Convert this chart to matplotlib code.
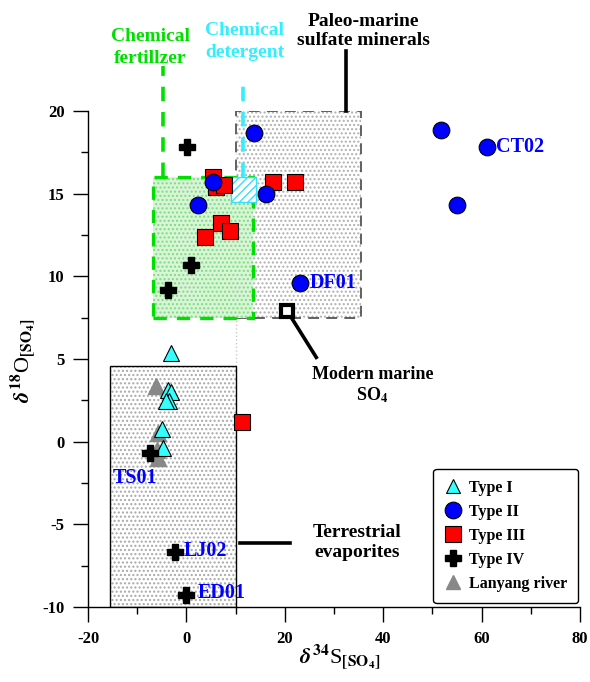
import matplotlib
matplotlib.use("Agg")
import matplotlib.pyplot as plt
from matplotlib.patches import Rectangle
from matplotlib.lines import Line2D

plt.rcParams['font.family'] = ['Liberation Serif', 'DejaVu Serif']
plt.rcParams['font.weight'] = 'bold'
plt.rcParams['mathtext.fontset'] = 'stix'
plt.rcParams['hatch.linewidth'] = 1.0
plt.rcParams['axes.unicode_minus'] = False

# ---------------- data ----------------
type1_s = [-3.1, -3.8, -3.1, -3.45, -4.1, -4.95, -4.7]
type1_o = [5.36, 3.1, 3.0, 2.44, 2.44, 0.77, -0.38]

type2_s = [13.8, 5.5, 16.2, 2.4, 23.0, 51.8, 61.0, 54.9]
type2_o = [18.65, 15.7, 15.0, 14.3, 9.6, 18.85, 17.8, 14.3]

type3_s = [5.4, 6.0, 7.7, 17.7, 22.1, 7.0, 8.9, 3.7, 11.4]
type3_o = [16.0, 15.4, 15.5, 15.7, 15.7, 13.2, 12.75, 12.4, 1.2]

type4_s = [0.1, 1.0, -3.8, -7.5, -2.4, -0.1]
type4_o = [17.8, 10.7, 9.2, -0.7, -6.7, -9.25]

lanyang_s = [-6.2, -5.8, -6.0, -5.8]
lanyang_o = [3.35, 0.5, -0.5, -1.0]

modern_s = [20.5]
modern_o = [7.9]

sample_labels = ["DF01", "CT02", "TS01", "LJ02", "ED01"]
sample_s = [23.0, 61.0, -7.5, -2.4, -0.1]
sample_o = [9.6, 17.8, -0.7, -6.7, -9.25]

legend_labels = ["Type I", "Type II", "Type III", "Type IV", "Lanyang river"]

# ---------------- figure ----------------
fig = plt.figure(figsize=(5.9, 6.82), dpi=100)
ax = fig.add_axes([88/590, 1-607/682, (580-88)/590, (607-111)/682])
ax.set_xlim(-20, 80)
ax.set_ylim(-10, 20)

for sp in ['top', 'right']:
    ax.spines[sp].set_visible(False)
for sp in ['left', 'bottom']:
    ax.spines[sp].set_linewidth(1.0)

ax.set_xticks([-20, 0, 20, 40, 60, 80])
ax.set_xticks([-10, 10, 30, 50, 70], minor=True)
ax.set_yticks([-10, -5, 0, 5, 10, 15, 20])
ax.set_yticks([-7.5, -2.5, 2.5, 7.5, 12.5, 17.5], minor=True)
ax.tick_params(which='major', direction='out', length=11, width=1.0, labelsize=12, pad=6)
ax.tick_params(which='minor', direction='out', length=5, width=1.0)
for lab in ax.get_xticklabels() + ax.get_yticklabels():
    lab.set_fontweight('bold')

# ---- boxes ----
def dotted_box(x0, y0, x1, y1, face, dotcol, edgecol, ls, lw, z, hatch='....'):
    ax.add_patch(Rectangle((x0, y0), x1-x0, y1-y0, facecolor=face, edgecolor=dotcol,
                           hatch=hatch, linewidth=0, zorder=z))
    ax.add_patch(Rectangle((x0, y0), x1-x0, y1-y0, facecolor='none', edgecolor=edgecol,
                           linestyle=ls, linewidth=lw, zorder=z+0.1))

# paleo-marine sulfate minerals
dotted_box(10.1, 7.5, 35.5, 20.0, 'white', '#b0b0b0', '#555555', (0, (6, 4)), 1.3, 1)
# terrestrial evaporites
dotted_box(-15.6, -10.0, 10.1, 4.55, 'white', '#a8a8a8', 'black', '-', 1.0, 1)
# chemical fertilizer
dotted_box(-6.7, 7.5, 13.6, 16.0, '#d8f5d8', '#7fdc7f', '#00e000', (0, (4, 3)), 2.4, 2)
# chemical detergent
ax.add_patch(Rectangle((9.1, 14.5), 5.0, 1.5, facecolor='white', edgecolor='#33e0ff',
                       hatch='////', linewidth=1.0, zorder=3))
# faint dotted link between boxes
ax.plot([10.1, 10.1], [4.55, 7.5], color='#c8c8c8', lw=1.0, ls=':', zorder=1)

# ---- leader lines ----
ax.plot([-4.7, -4.7], [16.0, 22.7], color='#00e000', lw=2.6, ls=(0, (4, 3)),
        clip_on=False, zorder=4)
ax.plot([11.45, 11.45], [16.0, 22.0], color='#33eeff', lw=2.6, ls=(0, (4, 3)),
        clip_on=False, zorder=4)
ax.plot([32.5, 32.5], [20.0, 23.6], color='black', lw=2.6, clip_on=False, zorder=4)
ax.plot([modern_s[0], 26.4], [modern_o[0], 5.1], color='black', lw=2.6, zorder=4)
ax.plot([10.8, 21.0], [-6.1, -6.1], color='black', lw=2.6, zorder=4)

# ---- annotations ----
ax.text(-7.3, 23.85, "Chemical\nfertillzer", color='#00e000', fontsize=14, fontweight='bold',
        ha='center', va='center', linespacing=1.35, clip_on=False)
ax.text(11.8, 24.2, "Chemical\ndetergent", color='#33eeff', fontsize=14, fontweight='bold',
        ha='center', va='center', linespacing=1.35, clip_on=False)
ax.text(36.0, 24.85, "Paleo-marine\nsulfate minerals", color='black', fontsize=14,
        fontweight='bold', ha='center', va='center', linespacing=1.15, clip_on=False)
ax.text(37.8, 3.4, "Modern marine\nSO$_\\mathbf{4}$", color='black', fontsize=13,
        fontweight='bold', ha='center', va='center', linespacing=1.15)
ax.text(34.6, -6.1, "Terrestrial\nevaporites", color='black', fontsize=14,
        fontweight='bold', ha='center', va='center', linespacing=1.3)

# ---- points ----
ax.plot(lanyang_s, lanyang_o, ls='none', marker='^', ms=11, color='#888888',
        mec='#888888', zorder=5)
ax.plot(type1_s, type1_o, ls='none', marker='^', ms=11, mfc='#33ffff', mec='black',
        mew=0.8, zorder=6)
ax.plot(type3_s, type3_o, ls='none', marker='s', ms=12, mfc='#ff0000', mec='black',
        mew=0.8, zorder=6)
ax.plot(type2_s, type2_o, ls='none', marker='o', ms=12, mfc='#0000ff', mec='black',
        mew=0.8, zorder=7)
ax.plot(type4_s, type4_o, ls='none', marker='P', ms=12, color='black', zorder=8)
ax.plot(modern_s, modern_o, ls='none', marker='s', ms=9, mfc='white', mec='black',
        mew=3.0, zorder=8)

offsets = {"DF01": (2.0, 0, 'left', 'center'),
           "CT02": (2.0, 0, 'left', 'center'),
           "TS01": (-2.9, -1.5, 'center', 'center'),
           "LJ02": (1.8, 0.1, 'left', 'center'),
           "ED01": (2.4, 0.1, 'left', 'center')}
for lab, s, o in zip(sample_labels, sample_s, sample_o):
    dx, dy, ha, va = offsets[lab]
    ax.text(s + dx, o + dy, lab, color='#0000ff', fontsize=14.5, fontweight='bold',
            ha=ha, va=va, zorder=9)

# ---- axis labels ----
fig.text(340/590, 1-657/682, r"$\delta^{\mathbf{34}}$S$_{\mathbf{[SO_4]}}$", fontsize=16,
         fontweight='normal', ha='center', va='center')
fig.text(23/590, 1-360/682, r"$\delta^{\mathbf{18}}$O$_{\mathbf{[SO_4]}}$", fontsize=16,
         fontweight='normal', ha='center', va='center', rotation=90)

# ---- legend ----
handles = [
    Line2D([], [], ls='none', marker='^', ms=10, mfc='#33ffff', mec='black', mew=0.8),
    Line2D([], [], ls='none', marker='o', ms=12, mfc='#0000ff', mec='black', mew=0.8),
    Line2D([], [], ls='none', marker='s', ms=11, mfc='#ff0000', mec='black', mew=0.8),
    Line2D([], [], ls='none', marker='P', ms=11, color='black'),
    Line2D([], [], ls='none', marker='^', ms=10, color='#888888'),
]
leg = ax.legend(handles, legend_labels, loc='lower right',
                bbox_to_anchor=((578-88)/492, 4/496), borderaxespad=0.0,
                frameon=True, fancybox=True, edgecolor='black', framealpha=1.0,
                prop={'weight': 'bold', 'size': 11.5}, handletextpad=0.4,
                labelspacing=0.5, borderpad=0.7, handlelength=1.1)
leg.get_frame().set_linewidth(1.0)
leg.set_zorder(10)

fig.savefig("out.png", dpi=100)
